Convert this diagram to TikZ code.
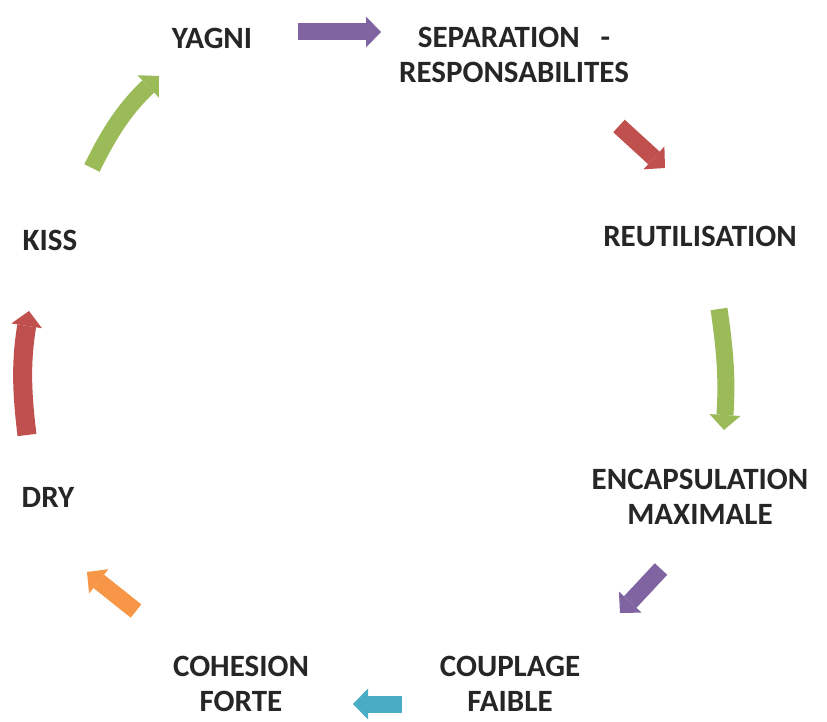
\documentclass[tikz,border=0pt]{standalone}
\usepackage{fontspec}
\setmainfont{Carlito}
\usetikzlibrary{arrows.meta}
\definecolor{opurple}{HTML}{8064A2}
\definecolor{ored}{HTML}{C0504D}
\definecolor{ogreen}{HTML}{9BBB59}
\definecolor{ocyan}{HTML}{4BACC6}
\definecolor{oorange}{HTML}{F79646}
\tikzset{
  lbl/.style={font=\bfseries\fontsize{31}{35}\selectfont, text=black!85, align=center, inner sep=0pt},
  blockarrow/.style={line width=17pt, -{Triangle[width=31pt,length=15pt,line width=0pt]}},
}
\begin{document}
\begin{tikzpicture}[x=1pt,y=-1pt]
\useasboundingbox (0,0) rectangle (827,722);
\fill[white] (0,0) rectangle (827,722);
% labels
\node[lbl] (yagni) at (212,38) {YAGNI};
\node[lbl] (sep) at (514,55) {SEPARATION\ \ \ -\\RESPONSABILITES};
\node[lbl] (reut) at (700,236) {REUTILISATION};
\node[lbl] (enc) at (700,497) {ENCAPSULATION\\MAXIMALE};
\node[lbl] (coup) at (510,684) {COUPLAGE\\FAIBLE};
\node[lbl] (coh) at (241,684) {COHESION\\FORTE};
\node[lbl] (dry) at (48,497) {DRY};
\node[lbl] (kiss) at (50,240) {KISS};
% arrow end points
\coordinate (a1s) at (298,32);  \coordinate (a1e) at (381,32);
\coordinate (a2s) at (619,126); \coordinate (a2e) at (665,168);
\coordinate (a3s) at (719,309); \coordinate (a3e) at (724,430);
\coordinate (a4s) at (661,569); \coordinate (a4e) at (620,613);
\coordinate (a5s) at (402,704); \coordinate (a5e) at (353,704);
\coordinate (a6s) at (136,611); \coordinate (a6e) at (87,572);
\coordinate (a7s) at (27,435);  \coordinate (a7e) at (29,311);
\coordinate (a8s) at (92,168);  \coordinate (a8e) at (159,76);
% arrows
\draw[blockarrow, opurple] (a1s) -- (a1e);
\draw[blockarrow, ored] (a2s) -- (a2e);
\draw[blockarrow, ogreen] (a3s) to[bend left=6] (a3e);
\draw[blockarrow, opurple] (a4s) -- (a4e);
\draw[blockarrow, ocyan] (a5s) -- (a5e);
\draw[blockarrow, oorange] (a6s) -- (a6e);
\draw[blockarrow, ored, line width=19pt] (a7s) to[bend left=8] (a7e);
\draw[blockarrow, ogreen] (a8s) to[bend left=10] (a8e);
\end{tikzpicture}
\end{document}
